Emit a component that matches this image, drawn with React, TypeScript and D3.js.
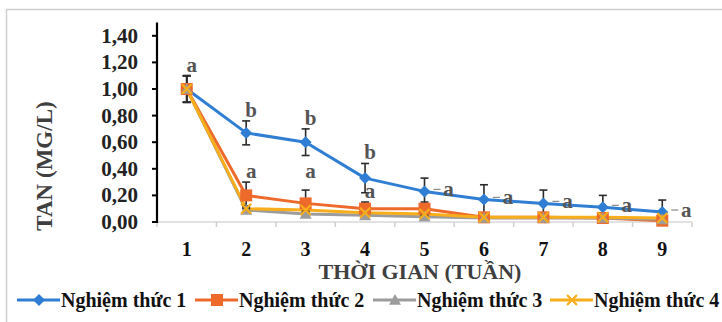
import React from "react";
import * as d3 from "d3";

const weeks = ["1", "2", "3", "4", "5", "6", "7", "8", "9"];
const seriesNames = ["Nghiệm thức 1", "Nghiệm thức 2", "Nghiệm thức 3", "Nghiệm thức 4"];
const nt1 = [1.0, 0.67, 0.6, 0.33, 0.23, 0.17, 0.14, 0.11, 0.075];
const nt2 = [1.0, 0.2, 0.14, 0.1, 0.1, 0.035, 0.035, 0.03, 0.01];
const nt3 = [1.0, 0.09, 0.06, 0.05, 0.04, 0.03, 0.03, 0.03, 0.02];
const nt4 = [1.0, 0.1, 0.09, 0.07, 0.06, 0.035, 0.035, 0.035, 0.03];
const err1 = [0.1, 0.09, 0.1, 0.11, 0.1, 0.11, 0.1, 0.09, 0.09];
const err2 = [0.1, 0.1, 0.1, 0.05, 0.05, 0.02, 0.02, 0.02, 0.02];
const err3 = [0.1, 0.02, 0.02, 0.02, 0.02, 0.01, 0.01, 0.01, 0.01];
const err4 = [0.1, 0.02, 0.02, 0.02, 0.02, 0.01, 0.01, 0.01, 0.01];
const yTicks = [0, 0.2, 0.4, 0.6, 0.8, 1.0, 1.2, 1.4];
// significance letters: week index, letter, anchor value, placement
const letterWeeks = [0, 1, 2, 3, 1, 2, 3, 4, 5, 6, 7, 8];
const letterTexts = ["a", "b", "b", "b", "a", "a", "a", "a", "a", "a", "a", "a"];
const letterValues = [1.1, 0.76, 0.7, 0.44, 0.3, 0.3, 0.15, 0.23, 0.17, 0.14, 0.11, 0.075];
const letterKinds = ["above", "above", "above", "above", "above", "above", "above", "right", "right", "right", "right", "right"];

const colors = ["#2F7ED3", "#EE6A2A", "#9C9C9C", "#F8AE1A"];
const FONT = "'Liberation Serif', 'Times New Roman', serif";

export default function App() {
  const W = 722, H = 322;
  const x0 = 157, x1 = 692, yTop = 22.5, yBot = 222;
  const x = d3.scaleBand<string>().domain(weeks).range([x0, x1]);
  const cx = (i: number) => (x(weeks[i]) as number) + x.bandwidth() / 2;
  const y = d3.scaleLinear().domain([0, 1.5]).range([yBot, yTop]);
  const data = [nt1, nt2, nt3, nt4];
  const errs = [err1, err2, err3, err4];
  const line = d3.line<number>().x((_, i) => cx(i)).y((v) => y(v));

  const marker = (k: number, px: number, py: number, key: string) => {
    const c = colors[k];
    if (k === 0) {
      const s = 6;
      return <path key={key} d={`M${px},${py - s}L${px + s},${py}L${px},${py + s}L${px - s},${py}Z`} fill={c} />;
    }
    if (k === 1) {
      const s = 6;
      return <rect key={key} x={px - s} y={py - s} width={2 * s} height={2 * s} fill={c} />;
    }
    if (k === 2) {
      const s = 6;
      return <path key={key} d={`M${px},${py - s}L${px + s},${py + s * 0.8}L${px - s},${py + s * 0.8}Z`} fill={c} />;
    }
    const s = 5;
    return (
      <path key={key} d={`M${px - s},${py - s}L${px + s},${py + s}M${px - s},${py + s}L${px + s},${py - s}`} stroke={c} strokeWidth={2.2} />
    );
  };

  const legendStarts = [17, 195, 373, 550];

  return (
    <svg width={W} height={H} style={{ position: "absolute", left: 0, top: 0, background: "#fff" }}>
      <rect x={6.5} y={9.5} width={740} height={340} fill="#fff" stroke="#cfcfcf" strokeWidth={1.5} />
      {/* x axis line */}
      <line x1={x0} x2={x1} y1={yBot} y2={yBot} stroke="#d9d9d9" strokeWidth={1.5} />
      {d3.range(weeks.length + 1).map((i) => {
        const xx = x0 + i * x.bandwidth();
        return <line key={"xt" + i} x1={xx} x2={xx} y1={yBot} y2={yBot + 5} stroke="#d0d0d0" strokeWidth={1.5} />;
      })}
      {weeks.map((w, i) => (
        <text key={"xl" + i} x={cx(i)} y={256} textAnchor="middle" fontFamily={FONT} fontWeight="bold" fontSize={20} fill="#111">
          {w}
        </text>
      ))}
      {/* y axis */}
      <line x1={x0} x2={x0} y1={yTop} y2={yBot + 1} stroke="#000" strokeWidth={2.2} />
      {yTicks.map((t, i) => (
        <g key={"yt" + i}>
          <line x1={x0 - 5} x2={x0} y1={y(t)} y2={y(t)} stroke="#000" strokeWidth={2} />
          <text x={138} y={y(t) + 7} textAnchor="end" fontFamily={FONT} fontWeight="bold" fontSize={21} fill="#222">
            {d3.format(".2f")(t).replace(".", ",")}
          </text>
        </g>
      ))}
      <text
        transform={`translate(52,166) rotate(-90)`}
        textAnchor="middle"
        fontFamily={FONT}
        fontWeight="bold"
        fontSize={23}
        fill="#3f3f3f"
      >
        TAN (MG/L)
      </text>
      <text x={420} y={279} textAnchor="middle" fontFamily={FONT} fontWeight="bold" fontSize={22} fill="#3f3f3f">
        THỜI GIAN (TUẦN)
      </text>
      {/* series lines */}
      {data.map((d, k) => (
        <path key={"ln" + k} d={line(d) || ""} fill="none" stroke={colors[k]} strokeWidth={3} strokeLinejoin="round" />
      ))}
      {/* error bars */}
      {data.map((d, k) =>
        d.map((v, i) => {
          const px = cx(i);
          const t = y(v + errs[k][i]);
          const b = y(Math.max(0, v - errs[k][i]));
          return (
            <g key={`eb${k}-${i}`} stroke="#2b2b2b" strokeWidth={1.6}>
              <line x1={px} x2={px} y1={t} y2={b} />
              <line x1={px - 4} x2={px + 4} y1={t} y2={t} />
              <line x1={px - 4} x2={px + 4} y1={b} y2={b} />
            </g>
          );
        })
      )}
      {/* markers */}
      {data.map((d, k) => d.map((v, i) => marker(k, cx(i), y(v), `mk${k}-${i}`)))}
      {/* letters */}
      {letterWeeks.map((wi, j) => {
        const px = cx(wi);
        const py = y(letterValues[j]);
        if (letterKinds[j] === "right") {
          return (
            <g key={"lt" + j}>
              <line x1={px + 9} x2={px + 16} y1={py - 2} y2={py - 2} stroke="#8a8a8a" strokeWidth={1.2} />
              <text x={px + 24} y={py + 5} textAnchor="middle" fontFamily={FONT} fontWeight="bold" fontSize={21} fill="#555">
                {letterTexts[j]}
              </text>
            </g>
          );
        }
        return (
          <text key={"lt" + j} x={px + 5} y={py - 4} textAnchor="middle" fontFamily={FONT} fontWeight="bold" fontSize={21} fill="#555">
            {letterTexts[j]}
          </text>
        );
      })}
      {/* legend */}
      {seriesNames.map((n, k) => {
        const s = legendStarts[k];
        const ly = 300;
        return (
          <g key={"lg" + k}>
            <line x1={s} x2={s + 43} y1={ly} y2={ly} stroke={colors[k]} strokeWidth={3} />
            {marker(k, s + 22, ly, "lgm" + k)}
            <text x={s + 44} y={ly + 7} fontFamily={FONT} fontWeight="bold" fontSize={20} fill="#111">
              {n}
            </text>
          </g>
        );
      })}
    </svg>
  );
}
